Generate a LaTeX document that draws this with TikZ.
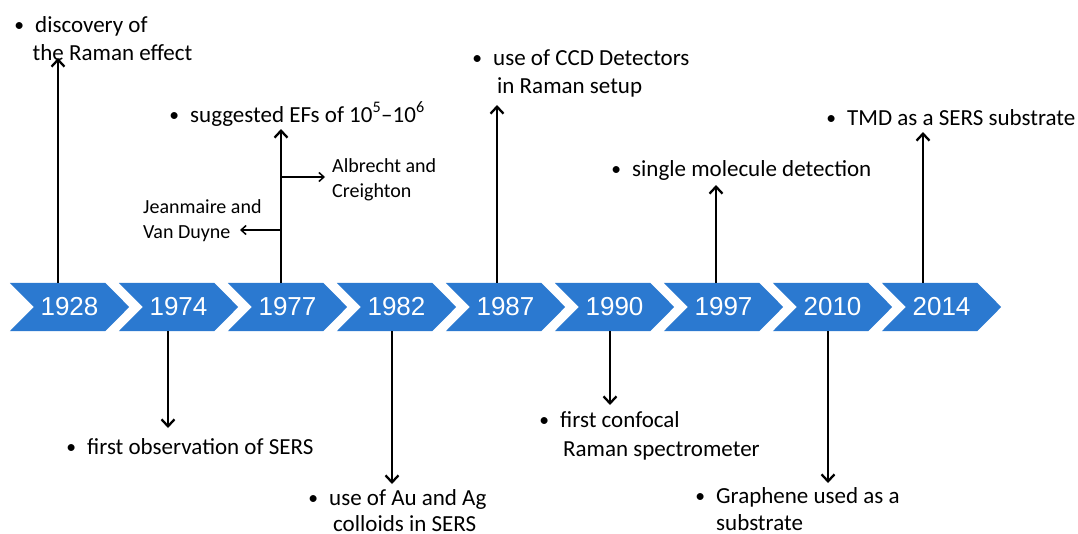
\documentclass[tikz,border=0pt]{standalone}
\usepackage{fontspec}
\setmainfont{Carlito}
\newfontfamily\yearfont{Liberation Sans}
\usetikzlibrary{arrows.meta,backgrounds}
\definecolor{chevblue}{RGB}{43,121,208}
\newcommand\mybul{\makebox[0pt][r]{\raisebox{1pt}{\scalebox{0.85}{•}}\hspace{11pt}}}
\begin{document}
\begin{tikzpicture}[x=1pt,y=-1pt,
  yr/.style={minimum width=71pt, minimum height=48pt, inner sep=0pt, text=white,
    font=\yearfont\fontsize{26}{30}\selectfont},
  lbl/.style={anchor=base west, inner sep=0pt, text=black, font=\fontsize{23}{28}\selectfont},
  sml/.style={anchor=base west, inner sep=0pt, text=black, font=\fontsize{20}{25}\selectfont},
  arr/.style={line width=2.3pt, -{Straight Barb[length=7pt,width=13pt]}},
  thinarr/.style={line width=1.5pt, -{Straight Barb[length=5pt,width=9pt]}}]
\useasboundingbox (0,0) rectangle (1078,533);
% chevrons
\foreach \yy/\L in {1928/10,1974/119,1977/228,1982/337,1987/446,1990/555,1997/664,2010/773,2014/882}{
  \node[yr] (c\yy) at (\L+59.5,307) {\yy};
}
\begin{scope}[on background layer]
\foreach \yy in {1928,1974,1977,1982,1987,1990,1997,2010,2014}{
  \fill[chevblue] ([xshift=-24pt]c\yy.north west) -- (c\yy.north east) -- ([xshift=24pt]c\yy.east)
    -- (c\yy.south east) -- ([xshift=-24pt]c\yy.south west) -- (c\yy.west) -- cycle;
}
\end{scope}
% labels
\node[lbl] (t1928) at (35,32) {\mybul discovery of};
\node[lbl] (t1928b) at (32.5,60) {the Raman effect};
\node[lbl] (t1974) at (87,454) {\mybul first observation of SERS};
\node[lbl] (t1977) at (190,122) {\mybul suggested EFs of 10\textsuperscript{5}–10\textsuperscript{6}};
\node[sml] (alb) at (332,172) {Albrecht and};
\node[sml] (albb) at (332,197) {Creighton};
\node[sml] (jea) at (143,213) {Jeanmaire and};
\node[sml] (jeab) at (143,238) {Van Duyne};
\node[lbl] (t1982) at (329,505) {\mybul use of Au and Ag};
\node[lbl] (t1982b) at (333,531) {colloids in SERS};
\node[lbl] (t1987) at (493,65) {\mybul use of CCD Detectors};
\node[lbl] (t1987b) at (497,93) {in Raman setup};
\node[lbl] (t1990) at (560,427) {\mybul first confocal};
\node[lbl] (t1990b) at (563,456) {Raman spectrometer};
\node[lbl] (t1997) at (632,176) {\mybul single molecule detection};
\node[lbl] (t2010) at (716,503) {\mybul Graphene used as a};
\node[lbl] (t2010b) at (716,530) {substrate};
\node[lbl] (t2014) at (847,125) {\mybul TMD as a SERS substrate};
% arrow ends
\coordinate (a1928) at (58,58);
\coordinate (a1974) at (168,428);
\coordinate (a1977) at (281,129);
\coordinate (r1977) at (325,177);
\coordinate (l1977) at (240,230);
\coordinate (a1982) at (392,484);
\coordinate (a1987) at (497,105);
\coordinate (a1990) at (610,405);
\coordinate (a1997) at (716,185);
\coordinate (a2010) at (828,483);
\coordinate (a2014) at (923,132);
% connectors
\draw[arr] (c1928.north -| a1928) -- (a1928);
\draw[arr] (c1974.south -| a1974) -- (a1974);
\draw[arr] (c1977.north -| a1977) -- (a1977);
\draw[thinarr] (a1977 |- r1977) -- (r1977);
\draw[thinarr] (a1977 |- l1977) -- (l1977);
\draw[arr] (c1982.south -| a1982) -- (a1982);
\draw[arr] (c1987.north -| a1987) -- (a1987);
\draw[arr] (c1990.south -| a1990) -- (a1990);
\draw[arr] (c1997.north -| a1997) -- (a1997);
\draw[arr] (c2010.south -| a2010) -- (a2010);
\draw[arr] (c2014.north -| a2014) -- (a2014);
\end{tikzpicture}
\end{document}
